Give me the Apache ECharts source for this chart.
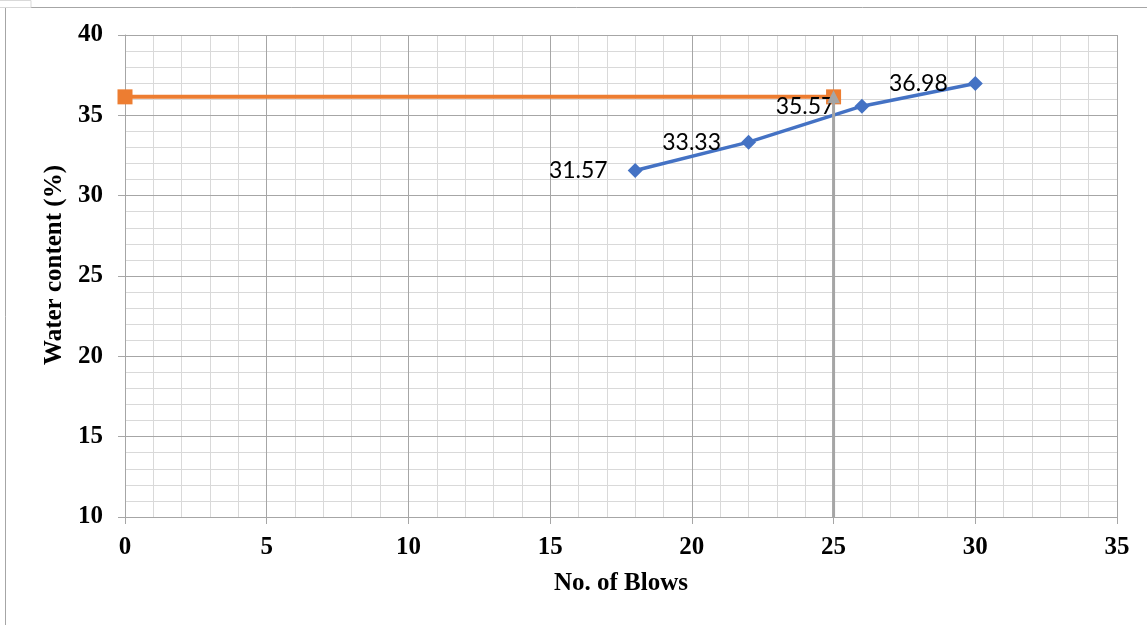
<!DOCTYPE html>
<html>
<head>
<meta charset="utf-8">
<script src="https://cdn.jsdelivr.net/npm/echarts@6/dist/echarts.min.js"></script>
<style>
html,body{margin:0;padding:0;background:#fff;}
#chart{width:1147px;height:625px;}
</style>
</head>
<body>
<div id="chart"></div>
<script>
var blowsX = [18, 22, 26, 30];
var waterY = [31.57, 33.33, 35.57, 36.98];
var llX = [0, 25];
var llY = [36.15, 36.15];
var vertX = [25, 25];
var vertY = [10, 36.15];
var xTitle = 'No. of Blows';
var yTitle = 'Water content (%)';

var chart = echarts.init(document.getElementById('chart'));
var serif = '"Liberation Serif", "Times New Roman", serif';

var blueData = blowsX.map(function (x, i) { return [x, waterY[i]]; });
var orangeData = llX.map(function (x, i) { return [x, llY[i]]; });
var greyData = vertX.map(function (x, i) {
  return { value: [x, vertY[i]], symbol: i === 0 ? 'none' : 'triangle' };
});

var minorX = {
  type: 'value', min: 0, max: 35, interval: 1, z: 0,
  axisLine: { show: false }, axisTick: { show: false }, axisLabel: { show: false },
  splitLine: { show: true, lineStyle: { color: '#d9d9d9', width: 1 } }
};
var minorY = {
  type: 'value', min: 10, max: 40, interval: 1, z: 0,
  axisLine: { show: false }, axisTick: { show: false }, axisLabel: { show: false },
  splitLine: { show: true, lineStyle: { color: '#d9d9d9', width: 1 } }
};

chart.setOption({
  animation: false,
  backgroundColor: '#fff',
  graphic: [
    { type: 'rect', shape: { x: 5.5, y: 7.5, width: 1200, height: 700 }, style: { fill: 'none', stroke: '#a6a6a6', lineWidth: 1 }, silent: true },
    { type: 'rect', shape: { x: -1, y: 0.5, width: 32, height: 7 }, style: { fill: 'none', stroke: '#d9d9d9', lineWidth: 1 }, silent: true }
  ],
  grid: { left: 125, right: 30, top: 35, bottom: 108, containLabel: false },
  xAxis: [{
    type: 'value', min: 0, max: 35, interval: 5, z: 1,
    name: xTitle, nameLocation: 'middle', nameGap: 54,
    nameTextStyle: { fontFamily: serif, fontWeight: 'bold', fontSize: 25, color: '#000' },
    axisLine: { show: true, lineStyle: { color: '#a6a6a6', width: 1 } },
    axisTick: { show: true, length: 7, lineStyle: { color: '#a6a6a6' } },
    axisLabel: { fontFamily: serif, fontWeight: 'bold', fontSize: 25, color: '#000', margin: 18 },
    splitLine: { show: true, lineStyle: { color: '#a6a6a6', width: 1 } }
  }, minorX],
  yAxis: [{
    type: 'value', min: 10, max: 40, interval: 5, z: 1,
    name: yTitle, nameLocation: 'middle', nameGap: 55, nameRotate: 90,
    nameTextStyle: { fontFamily: serif, fontWeight: 'bold', fontSize: 25, color: '#000', padding: [0, 0, 0, 22] },
    axisLine: { show: true, lineStyle: { color: '#a6a6a6', width: 1 } },
    axisTick: { show: true, length: 7, lineStyle: { color: '#a6a6a6' } },
    axisLabel: { fontFamily: serif, fontWeight: 'bold', fontSize: 25, color: '#000', margin: 22 },
    splitLine: { show: true, lineStyle: { color: '#a6a6a6', width: 1 } }
  }, minorY],
  series: [
    {
      type: 'line', data: orangeData, clip: false, xAxisIndex: 0, yAxisIndex: 0,
      symbol: 'rect', symbolSize: 15,
      lineStyle: { color: '#ED7D31', width: 4 },
      itemStyle: { color: '#ED7D31' },
      z: 2
    },
    {
      type: 'line', data: blueData, clip: false, xAxisIndex: 0, yAxisIndex: 0,
      symbol: 'diamond', symbolSize: 15,
      lineStyle: { color: '#4472C4', width: 3.5 },
      itemStyle: { color: '#4472C4' },
      label: {
        show: true, position: 'left', distance: 20,
        formatter: function (p) { return p.value[1].toFixed(2); },
        fontFamily: 'Lato, "Open Sans", sans-serif', fontSize: 23, color: '#000'
      },
      z: 3
    },
    {
      type: 'line', data: greyData, clip: false, xAxisIndex: 0, yAxisIndex: 0,
      symbolSize: 13,
      lineStyle: { color: '#A5A5A5', width: 3 },
      itemStyle: { color: '#A5A5A5' },
      z: 4
    }
  ]
});
</script>
</body>
</html>
